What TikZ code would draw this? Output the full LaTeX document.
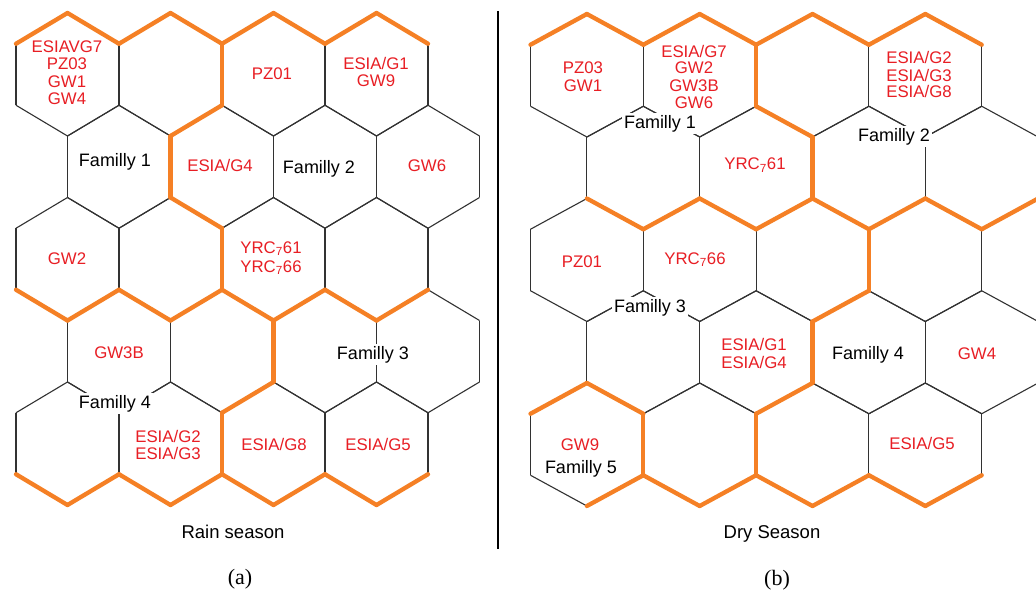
\documentclass[tikz,border=0pt]{standalone}
\usepackage{fontspec}
\setmainfont{Liberation Sans}
\newfontfamily\serifa{Liberation Serif}
\definecolor{hexorange}{RGB}{245,128,37}
\definecolor{hexgray}{RGB}{50,50,50}
\definecolor{labred}{RGB}{232,30,36}
\newcommand{\lblfont}{\fontsize{16.8}{18}\selectfont}
\newcommand{\famfont}{\fontsize{18}{20}\selectfont}
\newcommand{\ttlfont}{\fontsize{18.5}{20}\selectfont}
\newcommand{\capfont}{\serifa\fontsize{22}{24}\selectfont}
\newcommand{\HX}{0}\newcommand{\HW}{0}\newcommand{\HY}{0}\newcommand{\HS}{0}
\newcommand{\setpanel}[4]{\renewcommand{\HX}{#1}\renewcommand{\HW}{#2}\renewcommand{\HY}{#3}\renewcommand{\HS}{#4}}
% #1 style, #2 row, #3 column, #4 edge index (0 = top->upper right, clockwise)
\newcommand{\hexedge}[4]{%
  \pgfmathsetmacro{\hxcx}{\HX+(#3-1)*\HW+mod(#2+1,2)*\HW/2}%
  \pgfmathsetmacro{\hxcy}{\HY+(#2-1)*1.5*\HS}%
  \pgfmathsetmacro{\hxax}{\hxcx+cos(90-60*#4)*\HW/sqrt(3)}%
  \pgfmathsetmacro{\hxay}{\hxcy-sin(90-60*#4)*\HS}%
  \pgfmathsetmacro{\hxbx}{\hxcx+cos(30-60*#4)*\HW/sqrt(3)}%
  \pgfmathsetmacro{\hxby}{\hxcy-sin(30-60*#4)*\HS}%
  \draw[#1] (\hxax,\hxay) -- (\hxbx,\hxby);%
}
\begin{document}
\begin{tikzpicture}[x=1pt,y=-1pt,
  gedge/.style={draw=hexgray,line width=1.1pt},
  oedge/.style={draw=hexorange,line width=4.3pt,line cap=round},
  lbl/.style={text=labred,font=\lblfont,anchor=base,inner sep=0pt},
  fam/.style={text=black,font=\famfont,anchor=base,fill=white,inner sep=2pt},
  ttl/.style={text=black,font=\ttlfont,anchor=base,inner sep=0pt},
  capt/.style={text=black,font=\capfont,inner sep=0pt}]
\useasboundingbox (0,0) rectangle (1036,596);
\clip (0,0) rectangle (1036,596);
\fill[white] (0,0) rectangle (1036,596);

% ---------- left panel: rain season ----------
\setpanel{67.5}{103}{74.5}{61.5}
\foreach \r in {1,...,5}{\foreach \c in {1,...,4}{\foreach \e in {0,...,5}{\hexedge{gedge}{\r}{\c}{\e}}}}
\foreach \r/\c/\e in {1/1/5,1/1/0,1/2/5,1/2/0,1/3/5,1/3/0,1/4/5,1/4/0,
  1/2/1,1/2/2,2/1/1,2/2/3,3/2/1,3/2/2,3/2/3,3/1/2,3/1/3,
  3/3/3,4/2/1,3/3/2,3/4/3,3/4/2,4/2/2,5/2/1,
  5/1/2,5/1/3,5/2/2,5/2/3,5/3/2,5/3/3,5/4/2,5/4/3}{\hexedge{oedge}{\r}{\c}{\e}}

\node[lbl] (a11a) at (67,53) {ESIAVG7};
\node[lbl] (a11b) at (67,70) {PZ03};
\node[lbl] (a11c) at (67,88) {GW1};
\node[lbl] (a11d) at (67,105) {GW4};
\node[lbl] (a13) at (272,80) {PZ01};
\node[lbl] (a14a) at (376,70) {ESIA/G1};
\node[lbl] (a14b) at (376,87) {GW9};
\node[fam] (fa1) at (115,166.5) {Familly 1};
\node[lbl] (a22) at (220,172) {ESIA/G4};
\node[fam] (fa2) at (319,173.5) {Familly 2};
\node[lbl] (a24) at (427,172) {GW6};
\node[lbl] (a31) at (67,265) {GW2};
\node[lbl] (a33a) at (271,253) {YRC\textsubscript{7}61};
\node[lbl] (a33b) at (271,272) {YRC\textsubscript{7}66};
\node[lbl] (a41) at (119,358) {GW3B};
\node[fam] (fa3) at (373,359.5) {Familly 3};
\node[fam] (fa4) at (115,408.5) {Familly 4};
\node[lbl] (a52a) at (168,442) {ESIA/G2};
\node[lbl] (a52b) at (168,459) {ESIA/G3};
\node[lbl] (a53) at (274,450) {ESIA/G8};
\node[lbl] (a54) at (378,450) {ESIA/G5};
\node[ttl] (ta) at (233,538.5) {Rain season};
\node[capt] (capa) at (240,579) {(a)};

% ---------- divider ----------
\coordinate (divtop) at (498,11);
\coordinate (divbot) at (498,549);
\draw[line width=2.6pt,black] (divtop) -- (divbot);

% ---------- right panel: dry season ----------
\setpanel{586.9}{112.8}{75.5}{61.5}
\foreach \r in {1,...,5}{\foreach \c in {1,...,4}{\foreach \e in {0,...,5}{\hexedge{gedge}{\r}{\c}{\e}}}}
\foreach \r/\c/\e in {1/1/5,1/1/0,1/2/5,1/2/0,1/3/5,1/3/0,1/4/5,1/4/0,
  1/2/1,1/3/3,2/2/1,2/1/3,2/1/2,2/2/3,2/2/2,2/3/3,3/3/1,2/3/2,2/4/3,2/4/2,
  3/3/2,4/2/1,4/2/2,5/2/1,5/1/5,5/1/0,5/1/1,5/1/2,
  5/2/3,5/2/2,5/3/3,5/3/2,5/4/3,5/4/2}{\hexedge{oedge}{\r}{\c}{\e}}

\node[lbl] (b11a) at (583,74) {PZ03};
\node[lbl] (b11b) at (583,92) {GW1};
\node[lbl] (b12a) at (694,58) {ESIA/G7};
\node[lbl] (b12b) at (694,74) {GW2};
\node[lbl] (b12c) at (694,92) {GW3B};
\node[lbl] (b12d) at (694,109) {GW6};
\node[fam] (fb1) at (660,128.5) {Familly 1};
\node[lbl] (b22) at (755,170) {YRC\textsubscript{7}61};
\node[lbl] (b14a) at (919,64) {ESIA/G2};
\node[lbl] (b14b) at (919,82) {ESIA/G3};
\node[lbl] (b14c) at (919,98) {ESIA/G8};
\node[fam] (fb2) at (894,141.5) {Familly 2};
\node[lbl] (b31) at (582,267) {PZ01};
\node[lbl] (b32) at (695,264) {YRC\textsubscript{7}66};
\node[fam] (fb3) at (650,312.5) {Familly 3};
\node[lbl] (b42a) at (754,350) {ESIA/G1};
\node[lbl] (b42b) at (754,368) {ESIA/G4};
\node[fam] (fb4) at (868,359.5) {Familly 4};
\node[lbl] (b44) at (977,359) {GW4};
\node[lbl] (b51) at (580,450) {GW9};
\node[fam] (fb5) at (581,473.5) {Familly 5};
\node[lbl] (b54) at (922,449) {ESIA/G5};
\node[ttl] (tb) at (772,538.5) {Dry Season};
\node[capt] (capb) at (777,580) {(b)};
\end{tikzpicture}
\end{document}
